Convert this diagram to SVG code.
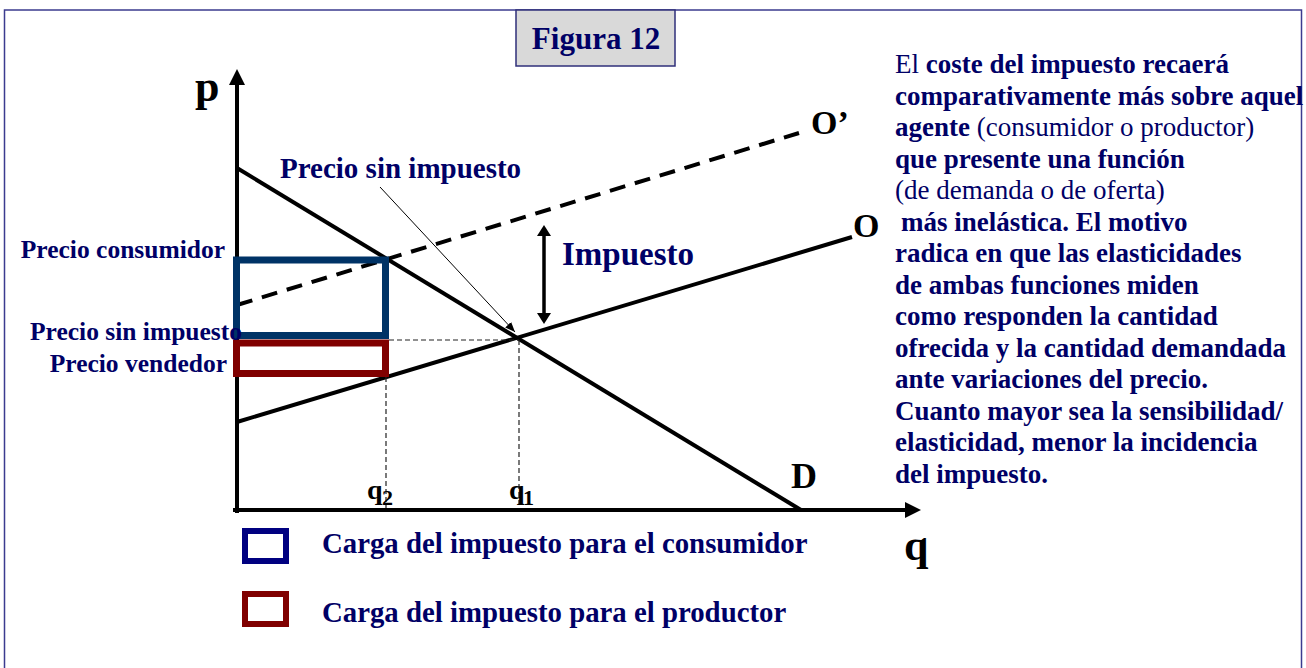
<svg xmlns="http://www.w3.org/2000/svg" width="1306" height="668" viewBox="0 0 1306 668">
<defs>
<style>
.t{font-family:"Liberation Serif","Times New Roman",serif;fill:#000066}
.b{font-weight:bold}
.k{fill:#000}
.ln{stroke:#000;stroke-width:4;fill:none}
.dot{stroke:#222;stroke-width:1.2;stroke-dasharray:5 3;fill:none}
</style>
<marker id="axh" viewBox="0 0 16 16" markerWidth="16" markerHeight="16" refX="0" refY="8" orient="auto" markerUnits="userSpaceOnUse"><path d="M0,0 L16,8 L0,16 z" fill="#000"/></marker>
<marker id="dh" viewBox="0 0 11 14" markerWidth="11" markerHeight="14" refX="0" refY="7" orient="auto-start-reverse" markerUnits="userSpaceOnUse"><path d="M0,0 L11,7 L0,14 z" fill="#000"/></marker>
<marker id="th" viewBox="0 0 10 8" markerWidth="10" markerHeight="8" refX="10" refY="4" orient="auto" markerUnits="userSpaceOnUse"><path d="M0,0 L10,4 L0,8 z" fill="#000"/></marker>
</defs>
<rect x="4.5" y="10" width="1297" height="680" fill="#fff" stroke="#3b3b8f" stroke-width="1.5"/>
<g id="title">
<rect x="516" y="10" width="159" height="56" fill="#d9d9d9" stroke="#2f2f7a" stroke-width="1.5"/>
<text class="t b" x="596" y="49" font-size="31" text-anchor="middle">Figura 12</text>
</g>
<g id="axes">
<line class="ln" x1="237" y1="513" x2="237" y2="85" marker-end="url(#axh)"/>
<line class="ln" x1="233" y1="510" x2="905" y2="510" marker-end="url(#axh)"/>
<text class="t b k" x="195" y="101" font-size="44">p</text>
<text class="t b k" x="904" y="560" font-size="44">q</text>
</g>
<g id="demand">
<line class="ln" x1="237" y1="168" x2="801" y2="510" stroke-width="3.5"/>
<text class="t b k" x="791" y="488" font-size="36">D</text>
</g>
<g id="supply">
<line class="ln" x1="237" y1="422" x2="852" y2="237" stroke-width="3.5"/>
<text class="t b k" x="853" y="237" font-size="34">O</text>
</g>
<g id="supply-tax">
<line class="ln" x1="237" y1="305" x2="799" y2="133" stroke-dasharray="16 10"/>
<text class="t b k" x="811" y="134" font-size="34">O’</text>
</g>
<g id="consumer-burden">
<rect x="236.5" y="260" width="149" height="75.5" fill="none" stroke="#003366" stroke-width="7"/>
</g>
<g id="producer-burden">
<rect x="236.5" y="343" width="149" height="30.5" fill="none" stroke="#800000" stroke-width="7"/>
</g>
<g id="connectors">
<line class="dot" x1="389" y1="340" x2="519" y2="340"/>
<line class="dot" x1="386" y1="377" x2="386" y2="508"/>
<line class="dot" x1="519" y1="340" x2="519" y2="508"/>
<line x1="380" y1="187" x2="515" y2="332" stroke="#000" stroke-width="1" marker-end="url(#th)"/>
<line x1="544" y1="236" x2="544" y2="313" stroke="#000" stroke-width="3.5" marker-start="url(#dh)" marker-end="url(#dh)"/>
</g>
<g id="labels">
<text class="t b" x="280" y="178" font-size="29">Precio sin impuesto</text>
<text class="t b" x="562" y="265" font-size="33">Impuesto</text>
<text class="t b" x="225" y="258" font-size="25.5" text-anchor="end">Precio consumidor</text>
<text class="t b" x="30" y="340" font-size="25.5">Precio sin impuesto</text>
<text class="t b" x="227" y="372" font-size="25.5" text-anchor="end">Precio vendedor</text>
<text class="t b k" x="367" y="499" font-size="28">q</text>
<text class="t b k" x="382" y="505" font-size="22">2</text>
<text class="t b k" x="509" y="499" font-size="28">q</text>
<text class="t b k" x="523" y="505" font-size="22">1</text>
</g>
<g id="legend">
<rect x="245" y="531" width="41" height="30" fill="none" stroke="#000080" stroke-width="6"/>
<rect x="245" y="594" width="41" height="30" fill="none" stroke="#800000" stroke-width="6"/>
<text class="t b" x="322" y="553" font-size="28.8">Carga del impuesto para el consumidor</text>
<text class="t b" x="322" y="622" font-size="28.8">Carga del impuesto para el productor</text>
</g>
<g id="explanation">
<text class="t" x="895" y="73" font-size="27">El <tspan class="b">coste del impuesto recaerá</tspan></text>
<text class="t b" x="895" y="104.5" font-size="27">comparativamente más sobre aquel</text>
<text class="t" x="895" y="136" font-size="27"><tspan class="b">agente</tspan> (consumidor o productor)</text>
<text class="t b" x="895" y="167.5" font-size="27">que presente una función</text>
<text class="t" x="895" y="199" font-size="27">(de demanda o de oferta)</text>
<text class="t b" x="901" y="230.5" font-size="27">más inelástica. El motivo</text>
<text class="t b" x="895" y="262" font-size="27">radica en que las elasticidades</text>
<text class="t b" x="895" y="293.5" font-size="27">de ambas funciones miden</text>
<text class="t b" x="895" y="325" font-size="27">como responden la cantidad</text>
<text class="t b" x="895" y="356.5" font-size="27">ofrecida y la cantidad demandada</text>
<text class="t b" x="895" y="388" font-size="27">ante variaciones del precio.</text>
<text class="t b" x="895" y="419.5" font-size="27">Cuanto mayor sea la sensibilidad/</text>
<text class="t b" x="895" y="451" font-size="27">elasticidad, menor la incidencia</text>
<text class="t b" x="895" y="482.5" font-size="27">del impuesto.</text>
</g>
</svg>
